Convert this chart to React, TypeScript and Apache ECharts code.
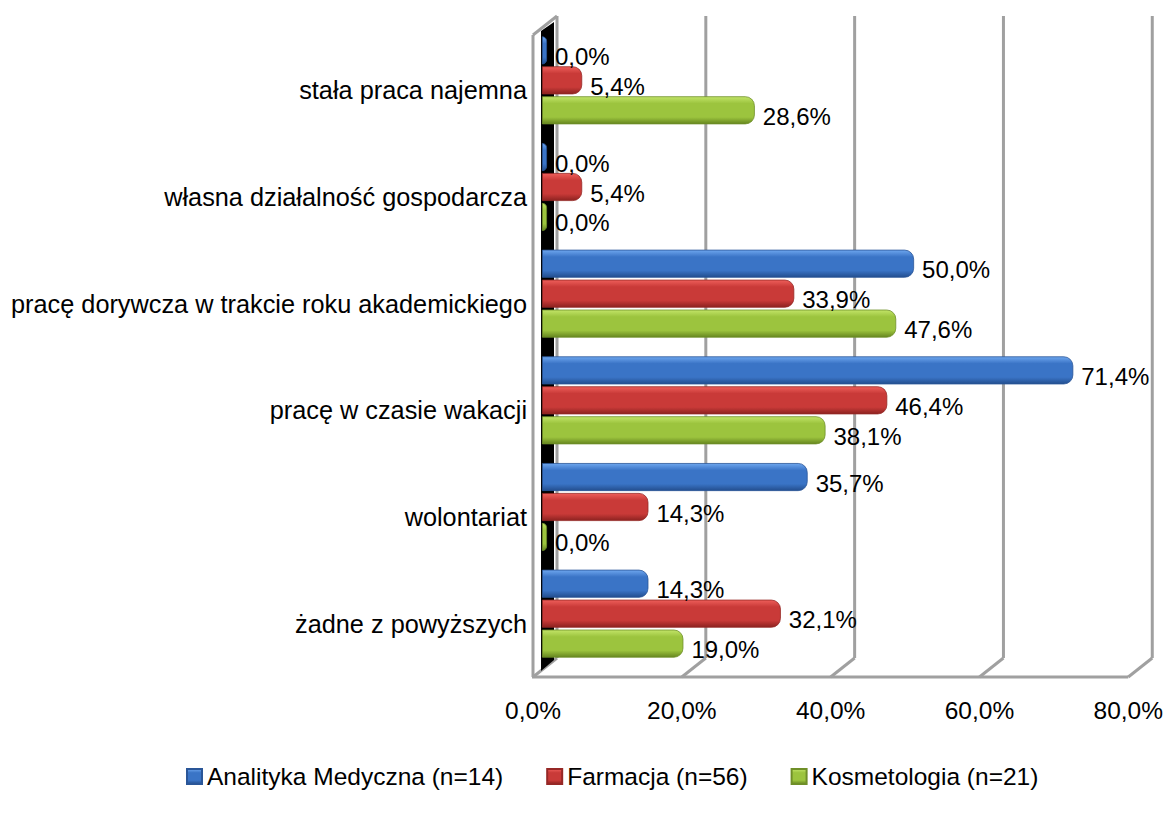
import React, { useEffect, useRef } from "react";
import * as echarts from "echarts";

const CATEGORIES = [
  "stała praca najemna",
  "własna działalność gospodarcza",
  "pracę dorywcza w trakcie roku akademickiego",
  "pracę w czasie wakacji",
  "wolontariat",
  "żadne z powyższych",
];
const SERIES_NAMES = ["Analityka Medyczna (n=14)", "Farmacja (n=56)", "Kosmetologia (n=21)"];
const ANALITYKA = [0, 0, 50, 71.4, 35.7, 14.3];
const FARMACJA = [5.4, 5.4, 33.9, 46.4, 14.3, 32.1];
const KOSMETOLOGIA = [28.6, 0, 47.6, 38.1, 0, 19.0];
const X_TICKS = [0, 20, 40, 60, 80];

const FONT = "'Liberation Sans', Arial, sans-serif";

const fmt = (v: number) => v.toFixed(1).replace(".", ",") + "%";

const grad = (light: string, mid: string, dark: string) =>
  new echarts.graphic.LinearGradient(0, 0, 0, 1, [
    { offset: 0, color: light },
    { offset: 0.25, color: mid },
    { offset: 0.75, color: mid },
    { offset: 1, color: dark },
  ]);

export default function App() {
  const ref = useRef<HTMLDivElement>(null);
  useEffect(() => {
    if (!ref.current) return;
    const chart = echarts.init(ref.current, undefined, { renderer: "svg" });

    const DX = 24;
    const DY = 19;
    const SHIFT = 9;
    const LINE = { stroke: "#a0a0a0", lineWidth: 3 };

    const barSeries = (name: string, data: number[], c: any, border: string) => ({
      name,
      type: "bar",
      data,
      barWidth: 28,
      barGap: "7%",
      barMinHeight: 5,
      z: 3,
      itemStyle: { color: c, borderRadius: [0, 9, 9, 0], borderColor: border, borderWidth: 0.8 },
      label: {
        show: true,
        position: "right",
        distance: 8,
        offset: [0, 6],
        color: "#000",
        fontFamily: FONT,
        fontSize: 24,
        formatter: (p: any) => fmt(p.value),
      },
    });

    chart.setOption({
      animation: false,
      backgroundColor: "#fff",
      textStyle: { fontFamily: FONT },
      grid: { left: 542, top: 27, width: 604, height: 640, containLabel: false },
      xAxis: {
        type: "value",
        min: 0,
        max: 80,
        interval: 20,
        axisLine: { show: false },
        axisTick: { show: false },
        splitLine: { show: false },
        axisLabel: {
          color: "#000",
          fontSize: 24.5,
          fontFamily: FONT,
          margin: 31,
          padding: [0, 18, 0, 0],
          formatter: (v: number) => fmt(v),
        },
      },
      yAxis: {
        type: "category",
        data: CATEGORIES,
        inverse: true,
        axisLine: { show: false },
        axisTick: { show: false },
        axisLabel: {
          color: "#000",
          fontSize: 25.3,
          fontFamily: FONT,
          margin: 15,
          verticalAlign: "top",
          lineHeight: 20,
        },
      },
      legend: {
        data: SERIES_NAMES,
        left: 181,
        top: 759,
        icon: "rect",
        itemWidth: 15,
        itemHeight: 15,
        itemGap: 43,
        textStyle: { color: "#000", fontSize: 24.5, fontFamily: FONT },
      },
      series: [
        {
          type: "custom",
          silent: true,
          clip: false,
          z: 1,
          encode: { x: 0, y: 1 },
          data: X_TICKS.map((v) => [v, 0]),
          renderItem: (params: any, api: any) => {
            const cs = params.coordSys;
            const v = api.value(0);
            const x0 = api.coord([v, 0])[0] - SHIFT;
            const yF = cs.y + cs.height + 10;
            const xb = x0 + DX;
            const yb = yF - DY;
            const yTop = cs.y - 11;
            const children: any[] = [
              { type: "line", shape: { x1: x0, y1: yF, x2: xb, y2: yb }, style: LINE },
              { type: "line", shape: { x1: xb, y1: yb, x2: xb, y2: yTop }, style: LINE },
            ];
            if (v === 0) {
              const xEnd = api.coord([80, 0])[0] - SHIFT;
              children.push(
                {
                  type: "polygon",
                  shape: {
                    points: [
                      [x0 + 8, yTop + DY - 4],
                      [xb - 3, yTop + 6],
                      [xb - 3, yb + 2],
                      [x0 + 8, yF - 6],
                    ],
                  },
                  style: { fill: "#000" },
                },
                { type: "line", shape: { x1: x0, y1: yF, x2: x0, y2: yTop + DY }, style: LINE },
                { type: "line", shape: { x1: x0, y1: yTop + DY, x2: xb, y2: yTop }, style: LINE },
                { type: "line", shape: { x1: x0 - 1, y1: yF, x2: xEnd, y2: yF }, style: LINE }
              );
            }
            return { type: "group", children };
          },
        },
        barSeries(SERIES_NAMES[0], ANALITYKA, grad("#6ea6ee", "#3a74c6", "#234e8e"), "#2a5698"),
        barSeries(SERIES_NAMES[1], FARMACJA, grad("#ee5e5a", "#c93a38", "#8c2220"), "#962826"),
        barSeries(SERIES_NAMES[2], KOSMETOLOGIA, grad("#c2e468", "#9cc43e", "#66861f"), "#6f8f28"),
      ],
    });
    return () => chart.dispose();
  }, []);
  return (
    <div
      ref={ref}
      style={{ position: "fixed", left: 0, top: 0, width: 1166, height: 816, background: "#fff" }}
    />
  );
}
